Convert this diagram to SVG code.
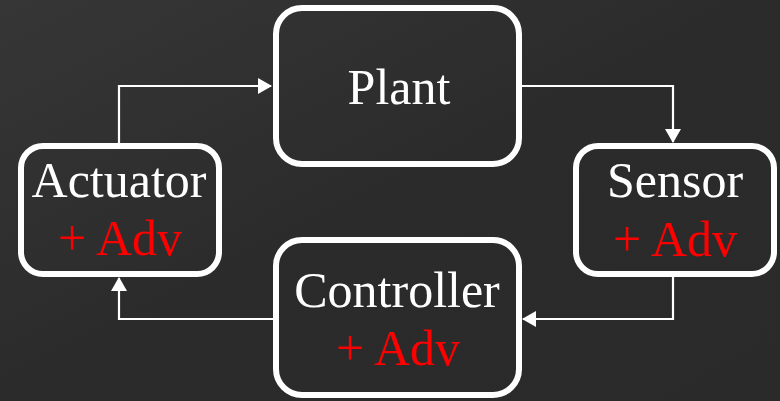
<svg xmlns="http://www.w3.org/2000/svg" width="780" height="401" viewBox="0 0 780 401">
  <defs>
    <style>
      .box { fill: none; stroke: #ffffff; stroke-width: 6; }
      .label { font-family: "Liberation Serif", "Times New Roman", serif; font-size: 50px; text-anchor: middle; fill: #ffffff; }
      .adv { fill: #ff0000; }
      .wire { fill: none; stroke: #ffffff; stroke-width: 2.2; }
    </style>
    <linearGradient id="board" x1="0" y1="0" x2="1" y2="1">
      <stop offset="0" stop-color="#363636"/>
      <stop offset="0.5" stop-color="#2b2b2b"/>
      <stop offset="1" stop-color="#2a2a2a"/>
    </linearGradient>
    <marker id="arrow" viewBox="0 0 14 16" refX="13" refY="8" markerWidth="14" markerHeight="16" markerUnits="userSpaceOnUse" orient="auto">
      <path d="M0,0 L14,8 L0,16 Z" fill="#ffffff"/>
    </marker>
  </defs>

  <!-- chalkboard background -->
  <rect x="0" y="0" width="780" height="401" fill="url(#board)"/>

  <!-- connectors -->
  <g id="connectors">
    <polyline class="wire" points="119,146 119,86 271,86" marker-end="url(#arrow)"/>
    <polyline class="wire" points="522,86 673,86 673,142" marker-end="url(#arrow)"/>
    <polyline class="wire" points="673,277 673,319 523,319" marker-end="url(#arrow)"/>
    <polyline class="wire" points="276,319 119,319 119,278" marker-end="url(#arrow)"/>
  </g>

  <g id="plant">
    <rect class="box" x="276" y="8" width="243" height="156" rx="26"/>
    <text class="label" x="399" y="104">Plant</text>
  </g>

  <g id="actuator">
    <rect class="box" x="21" y="146" width="198" height="128" rx="22"/>
    <text class="label" x="119" y="197">Actuator</text>
    <text class="label adv" x="120" y="255">+ Adv</text>
  </g>

  <g id="sensor">
    <rect class="box" x="576" y="146" width="198" height="128" rx="22"/>
    <text class="label" x="675" y="197">Sensor</text>
    <text class="label adv" x="675" y="256">+ Adv</text>
  </g>

  <g id="controller">
    <rect class="box" x="276" y="240" width="243" height="155" rx="26"/>
    <text class="label" x="397" y="307">Controller</text>
    <text class="label adv" x="398" y="365">+ Adv</text>
  </g>
</svg>
